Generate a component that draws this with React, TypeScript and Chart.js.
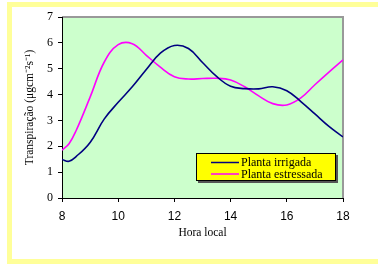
import React, { useEffect, useRef } from "react";
import { Chart, registerables } from "chart.js";

Chart.register(...registerables);

const hours = [8, 8.25, 8.5, 9, 9.5, 10, 10.5, 11, 11.5, 12, 12.5, 13, 13.5, 14, 14.5, 15, 15.5, 16, 16.5, 17, 17.5, 18];
const irrigada = [1.49, 1.42, 1.6, 2.15, 3.05, 3.7, 4.3, 4.97, 5.6, 5.9, 5.78, 5.24, 4.7, 4.32, 4.23, 4.22, 4.3, 4.15, 3.73, 3.25, 2.77, 2.36];
const estressada = [1.85, 2.1, 2.6, 3.9, 5.25, 5.93, 5.97, 5.52, 5.06, 4.69, 4.6, 4.62, 4.63, 4.56, 4.3, 3.95, 3.65, 3.6, 3.87, 4.38, 4.87, 5.34];
const seriesNames = ["Planta irrigada", "Planta estressada"];
const seriesColors = ["#000080", "#FF00FF"];
const xTicks = [8, 10, 12, 14, 16, 18];
const yTicks = [0, 1, 2, 3, 4, 5, 6, 7];

const framePlugin = {
  id: "frame",
  beforeDraw(chart: any) {
    const { ctx, chartArea } = chart;
    ctx.save();
    ctx.fillStyle = "#FFFFFF";
    ctx.fillRect(0, 0, chart.width, chart.height);
    ctx.fillStyle = "#FFFF99";
    ctx.fillRect(7, 2, chart.width - 7, 5);
    ctx.fillRect(7, 2, 5, chart.height - 2);
    ctx.fillRect(7, 259, chart.width - 7, 5);
    ctx.fillStyle = "#CCFFCC";
    ctx.fillRect(chartArea.left, chartArea.top, chartArea.right - chartArea.left, chartArea.bottom - chartArea.top);
    ctx.strokeStyle = "#999999";
    ctx.lineWidth = 2;
    ctx.beginPath();
    ctx.moveTo(chartArea.left, chartArea.top);
    ctx.lineTo(chartArea.right, chartArea.top);
    ctx.lineTo(chartArea.right, chartArea.bottom);
    ctx.stroke();
    ctx.restore();
  },
};

const legendPlugin = {
  id: "boxLegend",
  afterDraw(chart: any) {
    const { ctx } = chart;
    const x = 196, y = 153, w = 140, h = 28;
    ctx.save();
    ctx.fillStyle = "#555555";
    ctx.fillRect(x + 2, y + 2, w, h);
    ctx.fillStyle = "#FFFF00";
    ctx.fillRect(x, y, w, h);
    ctx.strokeStyle = "#000000";
    ctx.lineWidth = 1;
    ctx.strokeRect(x + 0.5, y + 0.5, w - 1, h - 1);
    ctx.font = "12px 'Liberation Serif', 'Times New Roman', serif";
    ctx.textBaseline = "middle";
    ctx.textAlign = "left";
    chart.data.datasets.forEach((ds: any, i: number) => {
      const ry = y + 9.5 + i * 11.5;
      ctx.strokeStyle = ds.borderColor;
      ctx.lineWidth = 1.5;
      ctx.beginPath();
      ctx.moveTo(211, ry);
      ctx.lineTo(239, ry);
      ctx.stroke();
      ctx.fillStyle = "#000000";
      ctx.fillText(ds.label, 241, ry + 0.5);
    });
    ctx.restore();
  },
};

export default function App() {
  const ref = useRef<HTMLCanvasElement>(null);
  useEffect(() => {
    if (!ref.current) return;
    const chart = new Chart(ref.current, {
      type: "line",
      data: {
        datasets: [irrigada, estressada].map((vals, i) => ({
          label: seriesNames[i],
          data: hours.map((h, j) => ({ x: h, y: vals[j] })),
          borderColor: seriesColors[i],
          backgroundColor: seriesColors[i],
          borderWidth: 1.6,
          pointRadius: 0,
          tension: 0.4,
          fill: false,
        })),
      },
      options: {
        responsive: false,
        animation: false,
        devicePixelRatio: 1,
        layout: { padding: { left: 0, top: 17, right: 35, bottom: 0 } },
        plugins: { legend: { display: false }, tooltip: { enabled: false } },
        scales: {
          x: {
            type: "linear",
            min: 8,
            max: 18,
            afterFit: (s: any) => { s.height = 66; },
            afterBuildTicks: (s: any) => { s.ticks = xTicks.map((v) => ({ value: v })); },
            grid: { drawOnChartArea: false, drawTicks: true, tickLength: 4, color: "#000000" },
            border: { display: true, color: "#000000", width: 1 },
            ticks: {
              padding: 7,
              color: "#000000",
              font: { family: "'Liberation Sans', Arial, sans-serif", size: 12 },
            },
            title: {
              display: true,
              text: "Hora local",
              color: "#000000",
              font: { family: "'Liberation Serif', 'Times New Roman', serif", size: 11.5 },
              padding: { top: 0, bottom: 24 },
            },
          },
          y: {
            type: "linear",
            min: 0,
            max: 7,
            afterFit: (s: any) => { s.width = 62; },
            afterBuildTicks: (s: any) => { s.ticks = yTicks.map((v) => ({ value: v })); },
            grid: { drawOnChartArea: false, drawTicks: true, tickLength: 4, color: "#000000" },
            border: { display: true, color: "#000000", width: 1 },
            ticks: {
              padding: 5,
              color: "#000000",
              font: { family: "'Liberation Serif', 'Times New Roman', serif", size: 12 },
            },
            title: {
              display: true,
              text: "Transpiração (μgcm⁻²s⁻¹)",
              color: "#000000",
              font: { family: "'Liberation Serif', 'Times New Roman', serif", size: 11.5 },
              padding: { top: 23, bottom: 0 },
            },
          },
        },
      },
      plugins: [framePlugin, legendPlugin],
    } as any);
    return () => chart.destroy();
  }, []);
  return (
    <div style={{ position: "fixed", left: 0, top: 0, width: 378, height: 264 }}>
      <canvas ref={ref} width={378} height={264} style={{ width: 378, height: 264, display: "block" }} />
    </div>
  );
}
